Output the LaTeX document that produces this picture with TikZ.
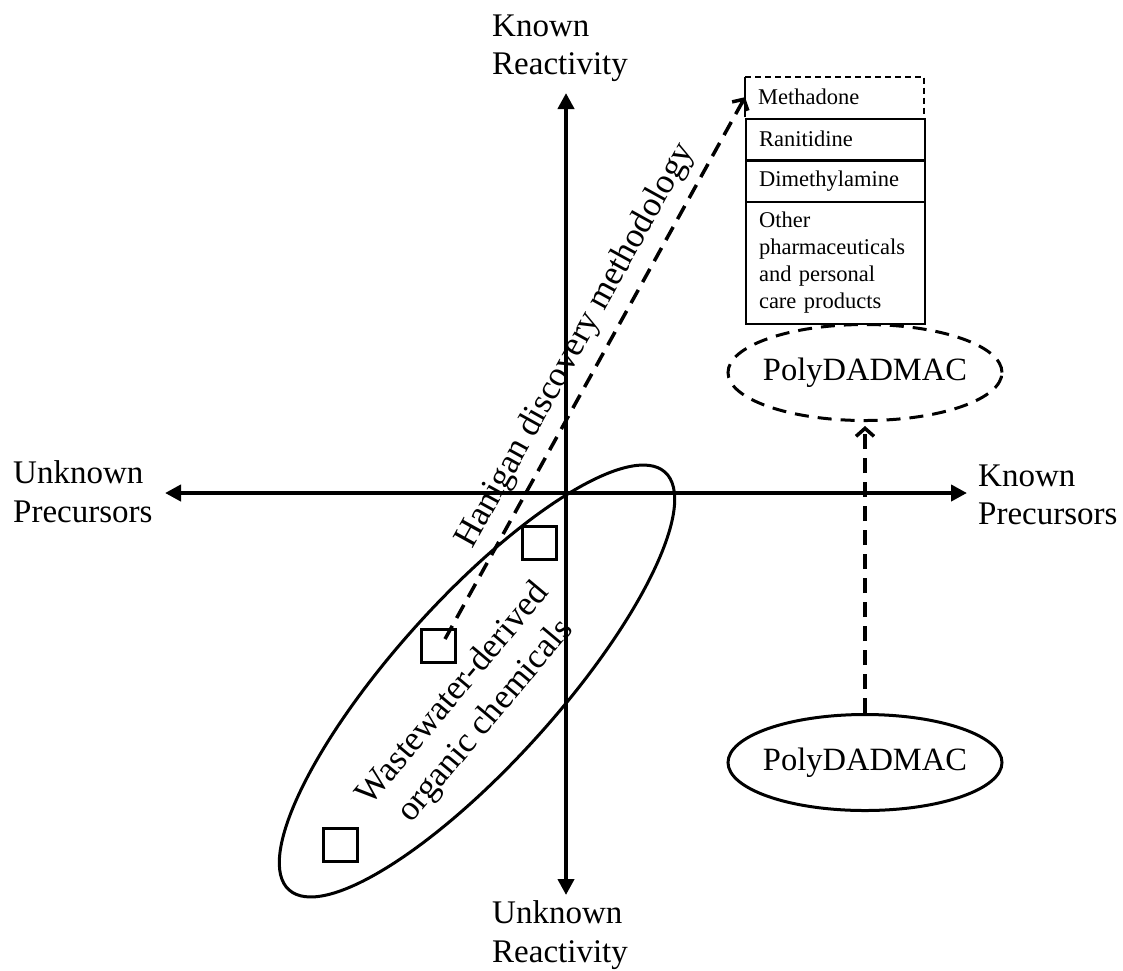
\documentclass[tikz,border=0pt]{standalone}
\usepackage{fontspec}
\setmainfont{Liberation Serif}
\usetikzlibrary{arrows.meta,shapes.geometric}

\begin{document}
\begin{tikzpicture}[x=1pt,y=-1pt,
  axis/.style={line width=4pt,{Triangle[length=16pt,width=16pt]}-{Triangle[length=16pt,width=16pt]}},
  lbl/.style={font=\fontsize{33}{38.5}\selectfont,align=left,inner sep=0pt,anchor=north west},
  sample/.style={draw,line width=3pt,minimum width=34pt,minimum height=33pt,inner sep=0pt},
  dasharrow/.style={line width=3.5pt,dash pattern=on 15pt off 9pt,-{Straight Barb[length=8pt,width=18pt,line width=3.5pt]}},
  listbox/.style={inner xsep=13pt,inner ysep=0pt,minimum width=179pt,text width=153pt,align=left,
    font=\fontsize{22.5}{27}\selectfont,anchor=north west},
  listline/.style={line width=2pt},
  polyshape/.style={ellipse,line width=3pt,minimum width=274pt,minimum height=96pt,inner sep=0pt,
    font=\fontsize{32.5}{38}\selectfont},
  slanted/.style={font=\fontsize{35}{42}\selectfont,inner sep=0pt,align=center}
]
\useasboundingbox (0,0) rectangle (1123,970);

% axes
\coordinate (o) at (566,493);
\coordinate (xl) at (165,493);
\coordinate (xr) at (967,493);
\coordinate (yt) at (566,93);
\coordinate (yb) at (566,895);
\draw[axis] (xl) -- (xr);
\draw[axis] (yb) -- (yt);

% axis labels
\node[lbl] (kr) at (492,14.5) {Known\\Reactivity};
\node[lbl] (ur) at (492,900.5) {Unknown\\Reactivity};
\node[lbl] (up) at (13,460.5) {Unknown\\Precursors};
\node[lbl] (kp) at (978,464.5) {Known\\Precursors};

% cluster of wastewater-derived chemicals
\node[draw,ellipse,line width=3pt,minimum width=562pt,minimum height=164pt,inner sep=0pt,rotate=48] (cloud) at (477,681) {};
\node[sample] (s1) at (539,542.5) {};
\node[sample] (s2) at (438.5,645.5) {};
\node[sample] (s3) at (340.5,845) {};
\node[slanted,rotate=50] (wlabel) at (470,708) {Wastewater-derived\\organic chemicals};

% list of known precursors
\node[listbox,minimum height=40pt] (meth) at (745,77) {Methadone};
\node[listbox,draw,listline,minimum height=41pt] (rani) at (745,117.5) {Ranitidine};
\node[listbox,draw,listline,minimum height=41pt] (dime) at (745,159.5) {Dimethylamine};
\node[listbox,draw,listline,minimum height=122pt] (other) at (745,201) {Other\\pharmaceuticals\\and personal\\care products};
\draw[listline] (meth.south west) -- (meth.north west);
\draw[listline,dash pattern=on 6pt off 4pt] (meth.north west) -- (meth.north east) -- (meth.south east);

% discovery path
\coordinate (hstart) at (445,639);
\draw[dasharrow] (hstart) -- (meth.west);
\node[slanted,rotate=61] (hlabel) at (576,346) {Hanigan discovery methodology};

% PolyDADMAC
\node[polyshape,draw,dash pattern=on 14pt off 9pt] (pd1) at (865,372.5) {\makebox[0pt]{PolyDADMAC}};
\node[polyshape,draw] (pd2) at (865,762.5) {\makebox[0pt]{PolyDADMAC}};
\draw[dasharrow,shorten >=4pt] (pd2) -- (pd1);
\end{tikzpicture}
\end{document}
